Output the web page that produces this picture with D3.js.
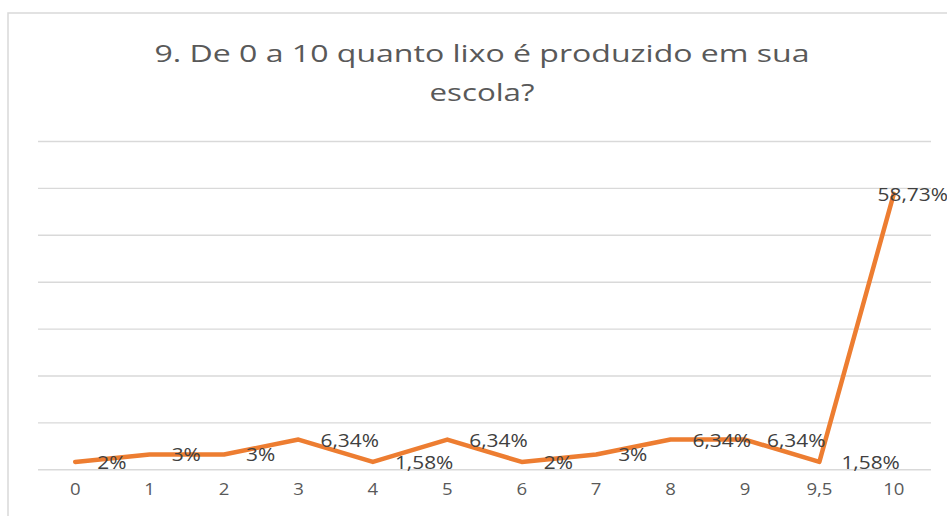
<!DOCTYPE html>
<html>
<head>
<meta charset="utf-8">
<script src="https://cdn.jsdelivr.net/npm/d3@7"></script>
<style>
  html, body { margin: 0; padding: 0; background: #fff; overflow: hidden; }
  svg { display: block; }
</style>
</head>
<body>
<svg id="chart" width="947" height="516"></svg>
<script>
// ---- Data ----
const categories = ["0", "1", "2", "3", "4", "5", "6", "7", "8", "9", "9,5", "10"];
const values = [1.58, 3.17, 3.17, 6.34, 1.58, 6.34, 1.58, 3.17, 6.34, 6.34, 1.58, 58.73];
const dataLabels = ["2%", "3%", "3%", "6,34%", "1,58%", "6,34%", "2%", "3%", "6,34%", "6,34%", "1,58%", "58,73%"];
const yTicks = [0, 10, 20, 30, 40, 50, 60, 70];
const titleLines = ["9. De 0 a 10 quanto lixo é produzido em sua", "escola?"];

// ---- Layout ----
const W = 947, H = 516;
const plot = { left: 38, right: 931, top: 141, bottom: 469.3 };
const stretch = 1.16;
const font = "'Open Sans', 'Noto Sans', sans-serif";

const svg = d3.select("#chart");

// chart border
svg.append("rect")
  .attr("x", 8).attr("y", 13)
  .attr("width", W + 20).attr("height", H + 20)
  .attr("fill", "#fff")
  .attr("stroke", "#d9d9d9").attr("stroke-width", 1.5);

const x = d3.scaleBand().domain(categories).range([plot.left, plot.right]).padding(0);
const y = d3.scaleLinear().domain([0, 70]).range([plot.bottom, plot.top]);
const cx = d => x(d) + x.bandwidth() / 2;

function stretchText(sel, k) {
  sel.each(function () {
    const w = this.getComputedTextLength();
    d3.select(this).attr("textLength", w * k).attr("lengthAdjust", "spacingAndGlyphs");
  });
}

// gridlines
const grid = svg.append("g")
  .attr("transform", `translate(${plot.left},0)`)
  .call(d3.axisLeft(y).tickValues(yTicks).tickSize(-(plot.right - plot.left)).tickFormat(""));
grid.select(".domain").remove();
grid.selectAll(".tick line").attr("stroke", "#d9d9d9").attr("stroke-width", 1.4);

// x axis labels
const xAxis = svg.append("g")
  .attr("transform", `translate(0,${plot.bottom})`)
  .call(d3.axisBottom(x).tickSize(0).tickPadding(14));
xAxis.select(".domain").remove();
xAxis.selectAll(".tick text")
  .attr("font-family", font).attr("font-size", 16).attr("fill", "#595959");
stretchText(xAxis.selectAll(".tick text"), stretch);

// line
const line = d3.line()
  .x((d, i) => cx(categories[i]))
  .y(d => y(d));
svg.append("path")
  .datum(values)
  .attr("d", line)
  .attr("fill", "none")
  .attr("stroke", "#ED7D31")
  .attr("stroke-width", 4.5)
  .attr("stroke-linejoin", "round")
  .attr("stroke-linecap", "round");

// data labels (to the right of each point)
const labels = svg.append("g").selectAll("text")
  .data(values)
  .join("text")
  .attr("x", (d, i) => cx(categories[i]) + 22)
  .attr("y", d => y(d) + 7)
  .attr("font-family", font)
  .attr("font-size", 18)
  .attr("fill", "#404040")
  .text((d, i) => dataLabels[i]);
stretchText(labels, stretch);
labels.each(function () {
  const sel = d3.select(this);
  const w = +sel.attr("textLength");
  const xx = +sel.attr("x");
  if (xx + w > W + 1) sel.attr("x", W + 1 - w);
});

// title
const titleWidths = [655, 105];
svg.append("g").selectAll("text")
  .data(titleLines)
  .join("text")
  .attr("x", 482)
  .attr("y", (d, i) => 62 + i * 39)
  .attr("text-anchor", "middle")
  .attr("font-family", font)
  .attr("font-size", 24)
  .attr("fill", "#595959")
  .attr("textLength", (d, i) => titleWidths[i])
  .attr("lengthAdjust", "spacingAndGlyphs")
  .text(d => d);
</script>
</body>
</html>
